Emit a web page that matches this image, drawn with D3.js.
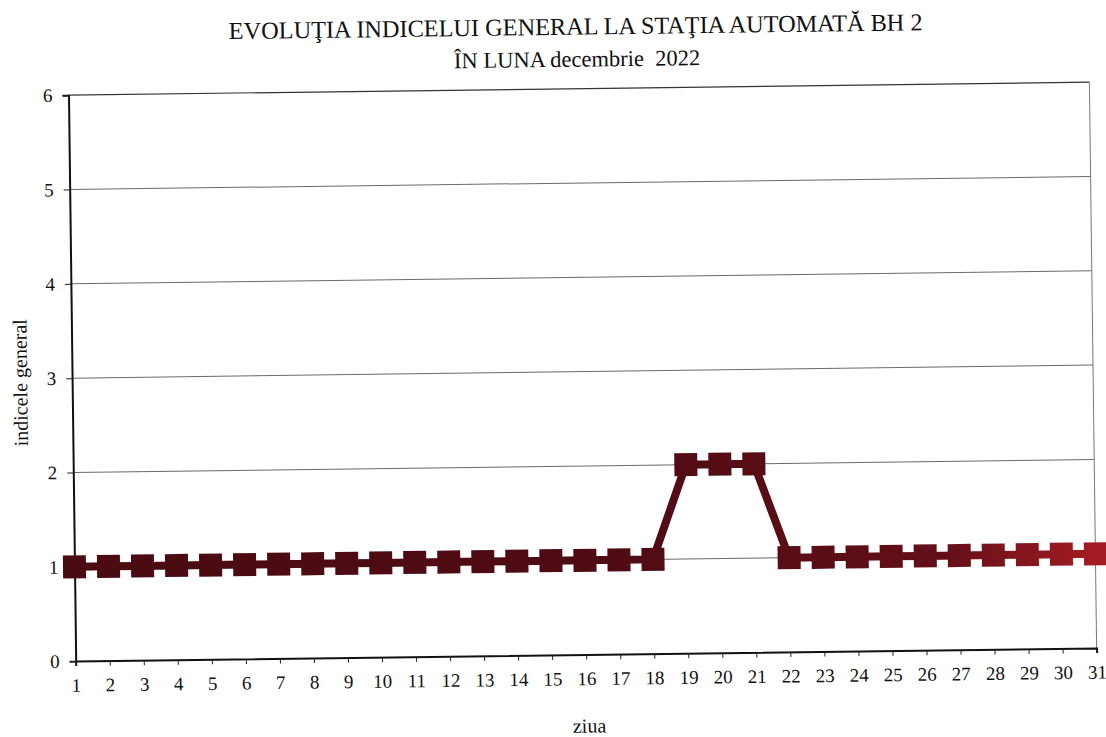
<!DOCTYPE html>
<html>
<head>
<meta charset="utf-8">
<script src="https://cdn.jsdelivr.net/npm/d3@7"></script>
<style>
  html, body { margin: 0; padding: 0; background: #fff; }
  svg { display: block; font-family: "Liberation Serif", "Times New Roman", serif; }
  .pre { white-space: pre; }
</style>
</head>
<body>
<svg id="chart" width="1106" height="737"></svg>
<script>
// ---- data ----
const titleLines = ["EVOLUŢIA INDICELUI GENERAL LA STAŢIA AUTOMATĂ BH 2", "ÎN LUNA decembrie  2022"];
const days = d3.range(1, 32);
const values = [1,1,1,1,1,1,1,1,1,1,1,1,1,1,1,1,1,1,2,2,2,1,1,1,1,1,1,1,1,1,1];
const yTicks = [0, 1, 2, 3, 4, 5, 6];
const yLabel = "indicele general";
const xLabel = "ziua";

// ---- layout ----
const W = 1106, H = 737;
const plot = { left: 72, right: 1093, top: 89, bottom: 655 };

const svg = d3.select("#chart");
const defs = svg.append("defs");
const grad = defs.append("linearGradient")
  .attr("id", "serGrad").attr("gradientUnits", "userSpaceOnUse")
  .attr("x1", plot.left).attr("x2", plot.right).attr("y1", 0).attr("y2", 0);
grad.append("stop").attr("offset", 0).attr("stop-color", "#4a0b12");
grad.append("stop").attr("offset", 0.55).attr("stop-color", "#500b14");
grad.append("stop").attr("offset", 0.85).attr("stop-color", "#620f18");
grad.append("stop").attr("offset", 1).attr("stop-color", "#a31c23");

// slight scan rotation of the whole page
const g = svg.append("g").attr("transform", `rotate(-0.73 ${W/2} ${H/2})`);

const x = d3.scaleLinear().domain([1, 31]).range([plot.left, plot.right]);
const y = d3.scaleLinear().domain([0, 6]).range([plot.bottom, plot.top]);

// title
g.append("text").attr("x", 580).attr("y", 35).attr("text-anchor", "middle")
  .attr("font-size", 24.3).attr("fill", "#111").text(titleLines[0]);
g.append("text").attr("class", "pre").attr("x", 581).attr("y", 67).attr("text-anchor", "middle")
  .attr("font-size", 22.5).attr("fill", "#111").text(titleLines[1]);

// gridlines
g.append("g").selectAll("line").data(yTicks.filter(d => d > 0 && d < 6)).join("line")
  .attr("x1", plot.left).attr("x2", plot.right)
  .attr("y1", d => y(d)).attr("y2", d => y(d))
  .attr("stroke", "#6a6a6a").attr("stroke-width", 1);

// top and right borders
g.append("line").attr("x1", plot.left).attr("x2", plot.right)
  .attr("y1", plot.top).attr("y2", plot.top).attr("stroke", "#333").attr("stroke-width", 1.2);
g.append("line").attr("x1", plot.right).attr("x2", plot.right)
  .attr("y1", plot.top).attr("y2", plot.bottom).attr("stroke", "#777").attr("stroke-width", 1);

// y axis
const yAxis = d3.axisLeft(y).tickValues(yTicks).tickSize(6).tickPadding(10).tickFormat(d3.format("d"));
const yg = g.append("g").attr("transform", `translate(${plot.left},0)`).call(yAxis);
yg.attr("font-size", 19).attr("font-family", "Liberation Serif, serif");
yg.select(".domain").attr("stroke", "#111").attr("stroke-width", 2);
yg.selectAll(".tick line").attr("stroke", "#222").attr("stroke-width", 1);
yg.selectAll(".tick text").attr("fill", "#111");

// x axis
const xAxis = d3.axisBottom(x).tickValues(days).tickSize(5).tickPadding(12).tickFormat(d3.format("d"));
const xg = g.append("g").attr("transform", `translate(0,${plot.bottom})`).call(xAxis);
xg.attr("font-size", 19).attr("font-family", "Liberation Serif, serif");
xg.select(".domain").attr("stroke", "#111").attr("stroke-width", 2);
xg.selectAll(".tick line").attr("stroke", "#222").attr("stroke-width", 1);
xg.selectAll(".tick text").attr("fill", "#111");

// axis titles
g.append("text").attr("transform", `translate(27,376) rotate(-90)`).attr("text-anchor", "middle")
  .attr("font-size", 20).attr("fill", "#111").text(yLabel);
g.append("text").attr("x", 585).attr("y", 733).attr("text-anchor", "middle")
  .attr("font-size", 20).attr("fill", "#111").text(xLabel);

// series
const data = days.map((d, i) => ({ day: d, v: values[i] }));
const line = d3.line().x(d => x(d.day)).y(d => y(d.v));
g.append("path").datum(data).attr("d", line)
  .attr("fill", "none").attr("stroke", "url(#serGrad)").attr("stroke-width", 8)
  .attr("stroke-linejoin", "miter");
const ms = 23;
g.append("g").selectAll("rect").data(data).join("rect")
  .attr("x", d => x(d.day) - ms/2).attr("y", d => y(d.v) - ms/2)
  .attr("width", ms).attr("height", ms)
  .attr("fill", "url(#serGrad)");
</script>
</body>
</html>
